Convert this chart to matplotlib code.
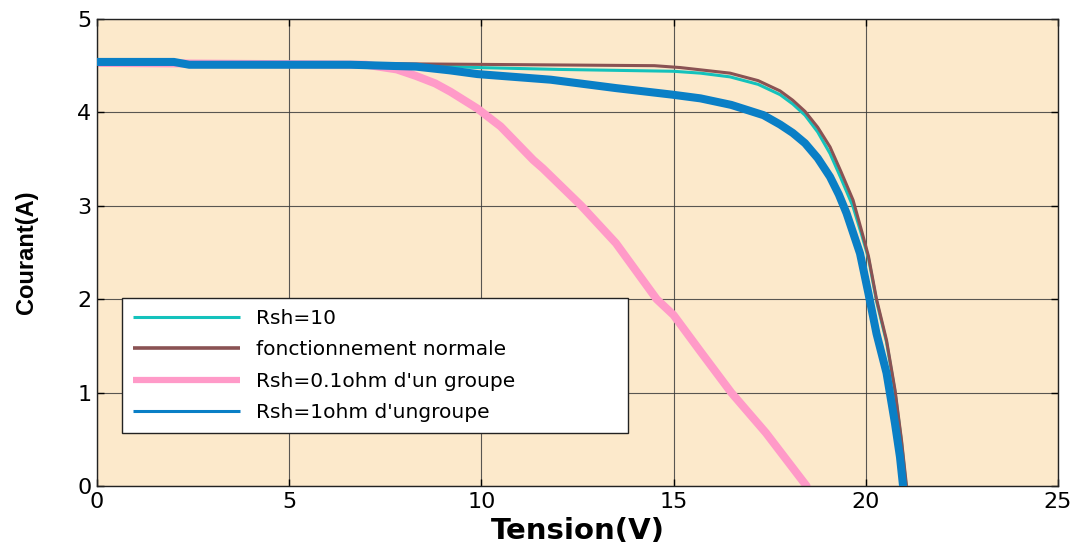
import matplotlib
matplotlib.use("Agg")
import matplotlib.pyplot as plt

# I-V characteristics of the PV module (voltage in V, current in A)
v_normal = [0, 8.0, 14.5, 15.17, 16.47, 17.2, 17.77, 18.1, 18.42, 18.75,
            19.07, 19.35, 19.67, 19.9, 20.07, 20.28, 20.54, 20.76, 20.93, 21.06]
i_normal = [4.53, 4.52, 4.50, 4.48, 4.42, 4.34, 4.23, 4.13, 4.01, 3.84,
            3.63, 3.37, 3.06, 2.72, 2.46, 2.00, 1.56, 1.03, 0.49, 0.0]

v_rsh10 = [0, 8.0, 9.9, 12.0, 15.0, 15.7, 16.47, 17.2, 17.77, 18.1, 18.42,
           18.75, 19.07, 19.35, 19.67, 19.9, 20.07, 20.28, 20.54, 20.76,
           20.93, 21.05]
i_rsh10 = [4.53, 4.51, 4.48, 4.46, 4.44, 4.42, 4.38, 4.30, 4.19, 4.09, 3.97,
           3.79, 3.56, 3.30, 2.99, 2.68, 2.44, 1.98, 1.54, 1.01, 0.47, 0.0]

v_rsh01 = [0, 7.0, 7.8, 8.3, 8.8, 9.2, 9.9, 10.5, 11.35, 11.6, 12.6, 13.5,
           14.56, 15.0, 15.7, 16.5, 17.4, 18.46]
i_rsh01 = [4.53, 4.51, 4.46, 4.39, 4.31, 4.22, 4.04, 3.85, 3.49, 3.40, 3.00,
           2.60, 2.00, 1.83, 1.44, 1.00, 0.57, 0.0]

v_rsh1 = [0, 2.0, 2.4, 6.6, 8.3, 9.18, 9.9, 11.8, 13.5, 14.96, 15.7, 16.5,
          17.34, 17.77, 18.1, 18.42, 18.75, 19.07, 19.3, 19.5, 19.85, 20.07,
          20.28, 20.54, 20.76, 20.89, 20.97]
i_rsh1 = [4.54, 4.54, 4.51, 4.51, 4.49, 4.45, 4.41, 4.35, 4.26, 4.19, 4.15,
          4.08, 3.97, 3.87, 3.78, 3.67, 3.51, 3.31, 3.12, 2.92, 2.49, 2.06,
          1.63, 1.21, 0.67, 0.31, 0.0]

labels = ["Rsh=10", "fonctionnement normale",
          "Rsh=0.1ohm d'un groupe", "Rsh=1ohm d'ungroupe"]
x_ticks = [0, 5, 10, 15, 20, 25]
y_ticks = [0, 1, 2, 3, 4, 5]

c_teal = "#14C2BC"
c_brown = "#8A5253"
c_pink = "#FF9AC8"
c_blue = "#0A7FC6"

fig = plt.figure(figsize=(10.81, 5.5), dpi=100)
ax = fig.add_axes([0.0897, 0.1164, 0.8890, 0.8491])
ax.set_facecolor("#FCE9CB")

ax.plot(v_rsh10, i_rsh10, color=c_teal, lw=2.2, label=labels[0], zorder=3)
ax.plot(v_normal, i_normal, color=c_brown, lw=2.2, label=labels[1], zorder=4)
ax.plot(v_rsh01, i_rsh01, color=c_pink, lw=5.8, label=labels[2], zorder=2,
        solid_capstyle="round", solid_joinstyle="round")
ax.plot(v_rsh1, i_rsh1, color=c_blue, lw=5.8, label=labels[3], zorder=5,
        solid_capstyle="round", solid_joinstyle="round")

ax.set_xlim(0, 25)
ax.set_ylim(0, 5)
ax.set_xticks(x_ticks)
ax.set_yticks(y_ticks)
ax.grid(True, color="#3c3c3c", lw=0.8, alpha=0.85)
ax.set_axisbelow(True)
ax.tick_params(direction="in", length=5, width=1, top=True, right=True,
               labelsize=16, pad=4)
for lab in ax.get_xticklabels() + ax.get_yticklabels():
    lab.set_fontfamily("DejaVu Sans")
for sp in ax.spines.values():
    sp.set_color("#222222")
    sp.set_linewidth(1.0)

ax.set_xlabel("Tension(V)", fontsize=21, fontweight="bold",
              family="DejaVu Sans", labelpad=4)
ax.set_ylabel("Courant(A)", fontsize=17, fontweight="bold",
              family="Liberation Sans", labelpad=28)

leg = ax.legend(loc="upper left", bbox_to_anchor=(0.026, 0.12, 0.527, 0.283),
                mode="expand", borderaxespad=0,
                prop={"family": "DejaVu Sans", "size": 14.5},
                handlelength=5.3, handletextpad=0.8, labelspacing=0.62,
                borderpad=0.55, fancybox=False, framealpha=1,
                edgecolor="#222222")
leg.get_frame().set_linewidth(1.0)
leg.set_zorder(10)
for line, w in zip(leg.get_lines(), [2.2, 2.6, 4.5, 2.2]):
    line.set_linewidth(w)
    line.set_solid_capstyle("butt")

fig.savefig("out.png", dpi=100, facecolor="white")
